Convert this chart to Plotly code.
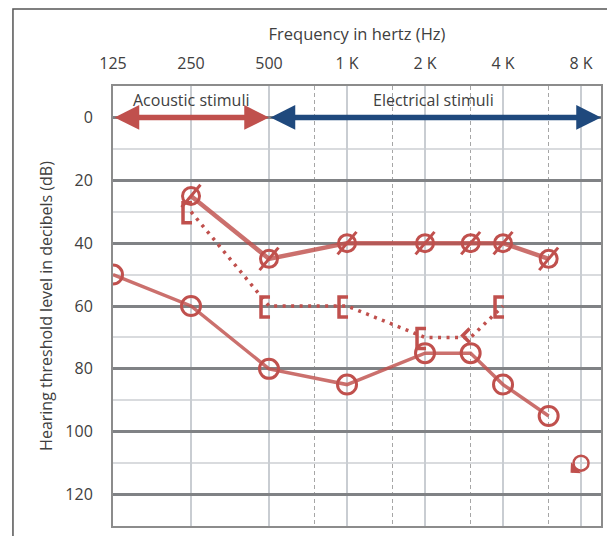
import math
import plotly.graph_objects as go

# ---- data ----
freq_ticks = [125, 250, 500, 1000, 2000, 4000, 8000]
freq_labels = ['125', '250', '500', '1 K', '2 K', '4 K', '8 K']
interoctave = [750, 1500, 3000, 6000]
db_ticks = [0, 20, 40, 60, 80, 100, 120]

aided_freq = [250, 500, 1000, 2000, 3000, 4000, 6000]
aided_db = [25, 45, 40, 40, 40, 40, 45]

bone_freq = [250, 500, 1000, 2000, 3000, 4000]
bone_db = [30, 60, 60, 70, 70, 60]
bone_sym = ['[', '[', '[', '[', '<', '[']

unaided_freq = [125, 250, 500, 1000, 2000, 3000, 4000, 6000]
unaided_db = [50, 60, 80, 85, 75, 75, 85, 95]

noresp_freq = [8000]
noresp_db = [110]

acoustic_range = [125, 500]
electrical_range = [500, 9553]

RED = '#C0504D'
RED_LINE = 'rgba(192,80,77,0.82)'
BLUE = '#1F497D'
TXT = '#404040'
FONT = 'Open Sans'

SYMBOL_PATHS = {
    '[': 'M 1,9 L -8,9 L -8,-11 L 1,-11',
    '<': 'M -1,9 L -8,2 L -1,-5',
}

fig = go.Figure()

# aided (slashed circles)
fig.add_trace(go.Scatter(x=aided_freq, y=aided_db, mode='lines+markers',
                         line=dict(color=RED_LINE, width=4.5),
                         marker=dict(symbol='circle-open', size=17, color=RED,
                                     line=dict(width=3, color=RED)),
                         showlegend=False, hoverinfo='skip'))
fig.add_trace(go.Scatter(x=aided_freq, y=aided_db, mode='markers',
                         marker=dict(symbol='line-ns', size=21, angle=40,
                                     line=dict(width=3, color=RED)),
                         showlegend=False, hoverinfo='skip'))

# bone conduction (dotted)
fig.add_trace(go.Scatter(x=bone_freq, y=bone_db, mode='lines',
                         line=dict(color=RED, width=3.5, dash='3px,5.5px'),
                         showlegend=False, hoverinfo='skip'))
for f, d, s in zip(bone_freq, bone_db, bone_sym):
    fig.add_shape(type='path', xref='x', yref='y', xsizemode='pixel', ysizemode='pixel',
                  xanchor=f, yanchor=d, path=SYMBOL_PATHS[s],
                  line=dict(color=RED, width=3.5), layer='above')

# unaided circles
fig.add_trace(go.Scatter(x=unaided_freq, y=unaided_db, mode='lines+markers',
                         line=dict(color=RED_LINE, width=3.5),
                         marker=dict(symbol='circle-open', size=19, color=RED,
                                     line=dict(width=3, color=RED)),
                         showlegend=False, hoverinfo='skip'))

# no response
fig.add_trace(go.Scatter(x=noresp_freq, y=noresp_db, mode='markers',
                         marker=dict(symbol='circle-open', size=15, color=RED,
                                     line=dict(width=2.5, color=RED)),
                         showlegend=False, hoverinfo='skip'))
for f, d in zip(noresp_freq, noresp_db):
    fig.add_annotation(x=math.log10(f), y=d, xref='x', yref='y', text='',
                       showarrow=True, ax=-12, ay=11, arrowside='start',
                       arrowhead=2, arrowsize=0.9, arrowwidth=2.5,
                       arrowcolor=RED, standoff=7)

# stimulus arrows
fig.add_annotation(x=math.log10(acoustic_range[1]), y=0, ax=math.log10(acoustic_range[0]), ay=0,
                   xref='x', yref='y', axref='x', ayref='y', text='', showarrow=True,
                   arrowside='end+start', arrowhead=2, arrowsize=0.9, arrowwidth=5.5,
                   arrowcolor=RED)
fig.add_annotation(x=math.log10(electrical_range[1]), y=0, ax=math.log10(electrical_range[0]), ay=0,
                   xref='x', yref='y', axref='x', ayref='y', text='', showarrow=True,
                   arrowside='end+start', arrowhead=2, arrowsize=0.9, arrowwidth=5.5,
                   arrowcolor=BLUE)
fig.add_annotation(x=math.log10(250), y=-5.5, xref='x', yref='y', text='Acoustic stimuli',
                   showarrow=False, font=dict(family=FONT, size=16, color=TXT))
fig.add_annotation(x=math.log10(2150), y=-5.5, xref='x', yref='y', text='Electrical stimuli',
                   showarrow=False, font=dict(family=FONT, size=16, color=TXT))

# outer frame
fig.add_shape(type='rect', xref='paper', yref='paper', x0=-0.205, x1=1.2, y0=-0.2, y1=1.175,
              line=dict(color='#555555', width=1.5), fillcolor='rgba(0,0,0,0)', layer='above')

fig.update_layout(
    width=615, height=536,
    margin=dict(l=105, r=22, t=78, b=18),
    paper_bgcolor='white', plot_bgcolor='white',
    font=dict(family=FONT, size=16, color=TXT),
    xaxis=dict(type='log', side='top', automargin=False,
               range=[math.log10(125), math.log10(electrical_range[1])],
               tickvals=freq_ticks, ticktext=freq_labels,
               ticks='outside', ticklen=9, tickcolor='rgba(0,0,0,0)',
               tickfont=dict(size=16, color=TXT),
               showgrid=True, gridcolor='#c9cdd2', gridwidth=2,
               minor=dict(tickvals=interoctave, showgrid=True, gridcolor='#a6a6a6',
                          gridwidth=1, griddash='4px,3px'),
               showline=True, linecolor='#8c8c8c', linewidth=2, mirror=True,
               zeroline=False,
               title=dict(text='Frequency in hertz (Hz)', standoff=7,
                          font=dict(size=16.5, color=TXT))),
    yaxis=dict(range=[130, -10], tickvals=db_ticks, automargin=False,
               ticks='outside', ticklen=15, tickcolor='rgba(0,0,0,0)',
               tickfont=dict(size=16, color=TXT),
               showgrid=True, gridcolor='#808285', gridwidth=3,
               minor=dict(dtick=10, tick0=0, showgrid=True, gridcolor='#d9dbde', gridwidth=2),
               showline=True, linecolor='#8c8c8c', linewidth=2, mirror=True,
               zeroline=False,
               title=dict(text='Hearing threshold level in decibels (dB)', standoff=9,
                          font=dict(size=16, color=TXT))),
)

fig.write_html('out.html')
